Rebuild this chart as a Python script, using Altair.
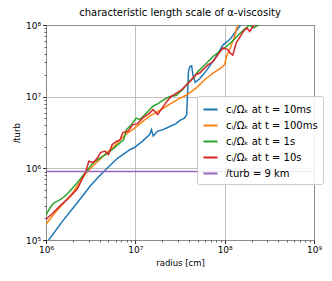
import altair as alt
import pandas as pd

# log10(radius [cm]) and log10(l_turb [cm])
blue_r = [6.03, 6.19, 6.35, 6.50, 6.58, 6.65, 6.80, 6.94, 6.99, 7.08, 7.16, 7.18, 7.20, 7.25, 7.31, 7.38, 7.45, 7.50, 7.55, 7.575, 7.585, 7.595, 7.61, 7.63, 7.645, 7.67, 7.72, 7.80, 7.90, 7.98, 8.06, 8.13, 8.19]
blue_l = [5.00, 5.27, 5.52, 5.76, 5.87, 5.96, 6.14, 6.26, 6.29, 6.38, 6.47, 6.54, 6.45, 6.52, 6.54, 6.58, 6.62, 6.67, 6.70, 6.75, 7.05, 7.35, 7.42, 7.43, 7.30, 7.20, 7.25, 7.37, 7.55, 7.72, 7.80, 7.92, 8.02]

orange_r = [6.00, 6.10, 6.20, 6.30, 6.44, 6.53, 6.60, 6.68, 6.76, 6.83, 6.90, 6.97, 7.06, 7.16, 7.25, 7.39, 7.50, 7.57, 7.68, 7.78, 7.87, 7.96, 8.00, 8.02, 8.07, 8.11, 8.15]
orange_l = [5.22, 5.38, 5.52, 5.66, 5.92, 6.04, 6.12, 6.22, 6.30, 6.40, 6.48, 6.54, 6.63, 6.73, 6.79, 6.90, 6.98, 7.02, 7.12, 7.24, 7.33, 7.40, 7.45, 7.56, 7.70, 7.84, 8.02]

green_r = [6.00, 6.05, 6.09, 6.14, 6.20, 6.25, 6.35, 6.44, 6.53, 6.60, 6.68, 6.76, 6.87, 6.90, 6.95, 7.01, 7.05, 7.10, 7.20, 7.25, 7.31, 7.38, 7.46, 7.53, 7.61, 7.65, 7.70, 7.76, 7.87, 7.95, 8.02, 8.10, 8.17, 8.22, 8.28, 8.32, 8.38, 8.43]
green_l = [5.35, 5.46, 5.52, 5.55, 5.60, 5.66, 5.80, 5.94, 6.08, 6.14, 6.20, 6.28, 6.40, 6.54, 6.60, 6.70, 6.68, 6.74, 6.87, 6.90, 6.95, 7.00, 7.02, 7.10, 7.22, 7.26, 7.35, 7.42, 7.56, 7.64, 7.70, 7.79, 7.88, 7.94, 8.00, 7.96, 8.00, 8.05]

red_r = [6.00, 6.08, 6.16, 6.25, 6.35, 6.44, 6.48, 6.53, 6.58, 6.61, 6.66, 6.70, 6.74, 6.78, 6.83, 6.86, 6.92, 6.97, 7.02, 7.08, 7.16, 7.20, 7.25, 7.35, 7.40, 7.46, 7.52, 7.61, 7.68, 7.72, 7.81, 7.87, 7.98, 8.03, 8.06, 8.09, 8.13, 8.21, 8.25, 8.28, 8.34]
red_l = [5.29, 5.38, 5.48, 5.58, 5.71, 5.94, 6.10, 6.08, 6.15, 6.22, 6.24, 6.19, 6.33, 6.37, 6.40, 6.50, 6.52, 6.61, 6.62, 6.70, 6.77, 6.82, 6.75, 6.93, 7.00, 7.05, 7.10, 7.21, 7.31, 7.33, 7.44, 7.49, 7.68, 7.66, 7.61, 7.58, 7.75, 7.91, 7.96, 7.91, 8.02]

lturb_value = 9.0e5
series_names = ["cᵢ/Ωₖ at t = 10ms", "cᵢ/Ωₖ at t = 100ms", "cᵢ/Ωₖ at t = 1s", "cᵢ/Ωₖ at t = 10s", "𝑙turb = 9 km"]
colors = ["#1f77b4", "#ff7f0e", "#2ca02c", "#d62728", "#9467bd"]

major_x = [1e6, 1e7, 1e8, 1e9]
major_y = [1e5, 1e6, 1e7, 1e8]
minor_x = [m * 10 ** e for e in range(6, 9) for m in range(2, 10)]
minor_y = [m * 10 ** e for e in range(5, 8) for m in range(2, 10)]

rows = []
for name, rs, ls in zip(series_names[:4], [blue_r, orange_r, green_r, red_r], [blue_l, orange_l, green_l, red_l]):
    for i, (r, l) in enumerate(zip(rs, ls)):
        rows.append({"series": name, "radius": 10 ** r, "l": 10 ** l, "order": i})
rows.append({"series": series_names[4], "radius": 1e6, "l": lturb_value, "order": 0})
rows.append({"series": series_names[4], "radius": 1e9, "l": lturb_value, "order": 1})
df = pd.DataFrame(rows)

lab_x = "datum.value == 1e6 ? '10⁶' : datum.value == 1e7 ? '10⁷' : datum.value == 1e8 ? '10⁸' : '10⁹'"
lab_y = "datum.value == 1e5 ? '10⁵' : datum.value == 1e6 ? '10⁶' : datum.value == 1e7 ? '10⁷' : '10⁸'"

xscale = alt.Scale(type="log", domain=[1e6, 1e9], nice=False)
yscale = alt.Scale(type="log", domain=[1e5, 1e8], nice=False)

lines = alt.Chart(df).mark_line(strokeWidth=1.5, clip=True).encode(
    x=alt.X("radius:Q", scale=xscale,
            axis=alt.Axis(values=major_x, labelExpr=lab_x, title="radius [cm]", grid=True,
                          orient="bottom", tickSize=3.5, tickWidth=0.8, tickColor="black",
                          labelFontSize=9, titleFontSize=8.5, titleFontWeight="normal",
                          labelColor="black", titleColor="black", domain=False,
                          gridColor="#b0b0b0", gridWidth=0.8, labelPadding=2, titlePadding=4,
                          labelFlush=False)),
    y=alt.Y("l:Q", scale=yscale,
            axis=alt.Axis(values=major_y, labelExpr=lab_y, title="𝑙turb", grid=True,
                          orient="left", tickSize=3.5, tickWidth=0.8, tickColor="black",
                          labelFontSize=9, titleFontSize=8.5, titleFontWeight="normal",
                          labelColor="black", titleColor="black", domain=False,
                          gridColor="#b0b0b0", gridWidth=0.8, labelPadding=2, titlePadding=4,
                          labelFlush=False)),
    color=alt.Color("series:N", scale=alt.Scale(domain=series_names, range=colors),
                    sort=series_names,
                    legend=alt.Legend(title=None, orient="none", legendX=151, legendY=71,
                                      symbolType="stroke", symbolStrokeWidth=2, symbolSize=200,
                                      labelFontSize=10, labelColor="black", labelOffset=7,
                                      fillColor="rgba(255,255,255,0.85)", strokeColor="#cccccc",
                                      cornerRadius=2, padding=5, rowPadding=2)),
    order="order:Q",
    detail="series:N",
)

minor_df = pd.DataFrame({"mx": minor_x, "my": minor_y})
minor = alt.Chart(minor_df).mark_point(opacity=0).encode(
    x=alt.X("mx:Q", scale=xscale,
            axis=alt.Axis(values=minor_x, labels=False, title=None, grid=False, orient="bottom",
                          tickSize=2, tickWidth=0.6, tickColor="black", domain=False)),
    y=alt.Y("my:Q", scale=yscale,
            axis=alt.Axis(values=minor_y, labels=False, title=None, grid=False, orient="left",
                          tickSize=2, tickWidth=0.6, tickColor="black", domain=False)),
)

chart = alt.layer(lines, minor).resolve_axis(x="independent", y="independent").properties(
    width=268, height=215,
    title=alt.Title("characteristic length scale of α-viscosity", fontSize=10,
                    fontWeight="normal", color="black", offset=3),
    autosize=alt.AutoSizeParams(type="none"),
    padding={"left": 38, "top": 17, "right": 10, "bottom": 40},
).configure(font="DejaVu Sans").configure_view(stroke="black", strokeWidth=1)

chart.save("out.html", embed_options={"renderer": "svg", "actions": False})
